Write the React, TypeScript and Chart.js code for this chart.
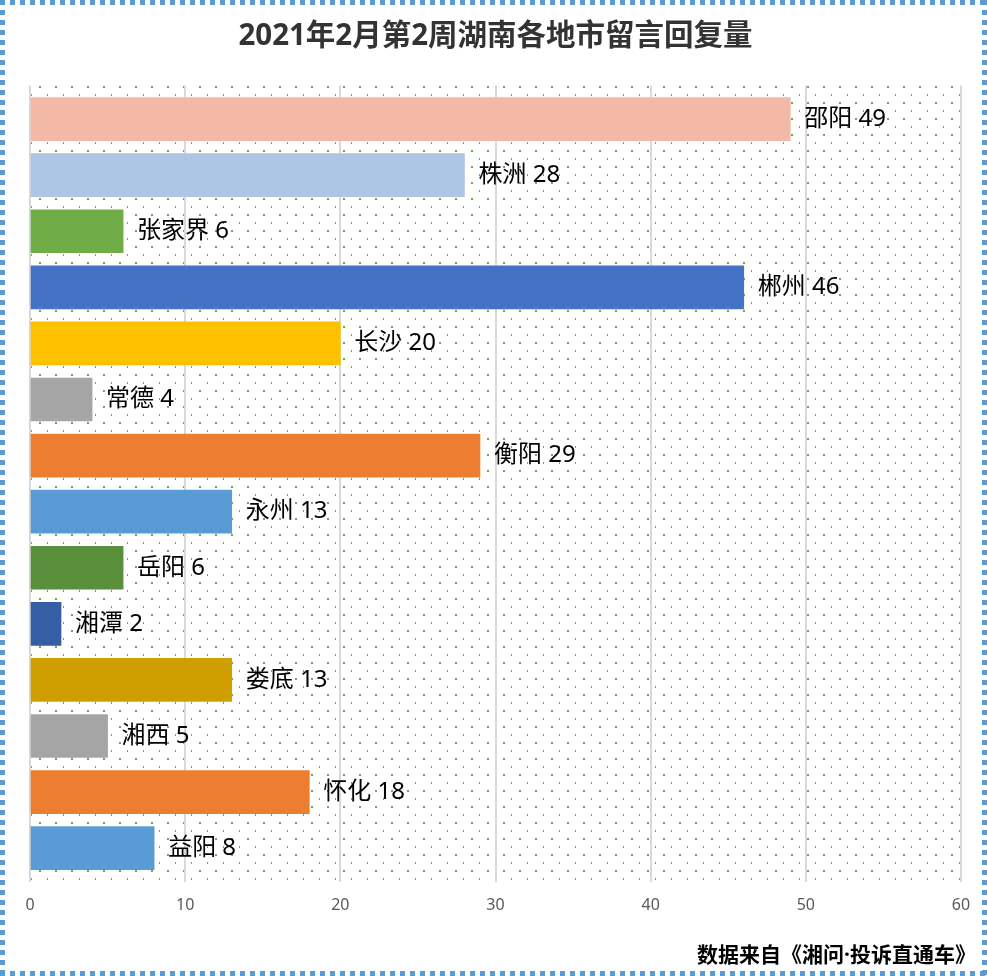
import React, { useEffect, useRef } from "react";
import { Chart, registerables } from "chart.js";

Chart.register(...registerables);

const TITLE = "2021年2月第2周湖南各地市留言回复量";
const FOOTER = "数据来自《湘问·投诉直通车》";
const cities = ["邵阳", "株洲", "张家界", "郴州", "长沙", "常德", "衡阳", "永州", "岳阳", "湘潭", "娄底", "湘西", "怀化", "益阳"];
const replies = [49, 28, 6, 46, 20, 4, 29, 13, 6, 2, 13, 5, 18, 8];
const barColors = [
  "#F4B9A6", "#AEC5E6", "#70AD47", "#4472C4", "#FFC000", "#A5A5A5", "#ED7D31",
  "#5B9BD5", "#5A8F3B", "#365EA5", "#D19E00", "#A5A5A5", "#ED7D31", "#5B9BD5",
];
const xMax = 60;
const xStep = 10;

const FONT = '"Noto Sans", "Noto Sans CJK SC", sans-serif';

function makeDotPattern(ctx: CanvasRenderingContext2D) {
  const tile = document.createElement("canvas");
  tile.width = 16;
  tile.height = 16;
  const t = tile.getContext("2d")!;
  t.fillStyle = "#70AD47";
  t.fillRect(7, 6, 2, 2);
  t.fillRect(15, 14, 2, 2);
  return ctx.createPattern(tile, "repeat");
}

const decorPlugin = {
  id: "decor",
  beforeDraw(chart: any) {
    const { ctx, chartArea } = chart;
    ctx.save();
    ctx.fillStyle = "#ffffff";
    ctx.fillRect(0, 0, chart.width, chart.height);
    const pat = makeDotPattern(ctx);
    if (pat) {
      ctx.fillStyle = pat;
      ctx.fillRect(chartArea.left, chartArea.top, chartArea.right - chartArea.left, chartArea.bottom - chartArea.top);
    }
    ctx.restore();
  },
  afterDatasetsDraw(chart: any) {
    const { ctx } = chart;
    const meta = chart.getDatasetMeta(0);
    ctx.save();
    ctx.font = `24px ${FONT}`;
    ctx.fillStyle = "#000000";
    ctx.textBaseline = "middle";
    ctx.textAlign = "left";
    meta.data.forEach((bar: any, i: number) => {
      ctx.fillText(`${cities[i]} ${replies[i]}`, bar.x + 14, bar.y);
    });
    ctx.restore();
  },
  afterDraw(chart: any) {
    const { ctx, width, height } = chart;
    ctx.save();
    ctx.font = `bold 21px ${FONT}`;
    ctx.fillStyle = "#000000";
    ctx.textAlign = "right";
    ctx.textBaseline = "middle";
    ctx.fillText(FOOTER, 976, 956);
    ctx.fillStyle = "#5B9BD5";
    const s = 5;
    for (let x = 0; x < width; x += 10) {
      ctx.fillRect(x, 0, s, s);
      ctx.fillRect(x, height - s, s, s);
    }
    for (let y = 0; y < height; y += 10) {
      ctx.fillRect(0, y, s, s);
      ctx.fillRect(width - s, y, s, s);
    }
    ctx.restore();
  },
};

export default function App() {
  const ref = useRef<HTMLCanvasElement>(null);
  useEffect(() => {
    if (!ref.current) return;
    const chart = new Chart(ref.current, {
      type: "bar",
      data: {
        datasets: [
          {
            data: replies.map((v, i) => ({ x: v, y: i })),
            backgroundColor: barColors,
            borderWidth: 0,
            barThickness: 43,
          },
        ],
      },
      options: {
        indexAxis: "y",
        animation: false,
        responsive: false,
        maintainAspectRatio: false,
        layout: { padding: { top: 0, left: 30, right: 26, bottom: 47 } },
        plugins: {
          legend: { display: false },
          tooltip: { enabled: false },
          title: {
            display: true,
            text: TITLE,
            color: "#333333",
            font: { family: FONT, size: 29.5, weight: "bold", lineHeight: 1.2 },
            padding: { top: 19, bottom: 31 },
          },
        },
        scales: {
          x: {
            type: "linear",
            min: 0,
            max: xMax,
            ticks: { stepSize: xStep, color: "#595959", padding: 14, font: { family: FONT, size: 16 } },
            grid: { color: "#D9D9D9", lineWidth: 2, drawTicks: false },
            border: { display: false },
          },
          y: {
            type: "linear",
            reverse: true,
            offset: false,
            min: -0.6,
            max: cities.length - 1 + 0.6,
            display: false,
            grid: { display: false },
          },
        },
      },
      plugins: [decorPlugin],
    });
    return () => chart.destroy();
  }, []);
  return (
    <div style={{ position: "fixed", left: 0, top: 0, width: 987, height: 976, background: "#fff" }}>
      <canvas ref={ref} width={987} height={976} style={{ display: "block", width: 987, height: 976 }} />
    </div>
  );
}
